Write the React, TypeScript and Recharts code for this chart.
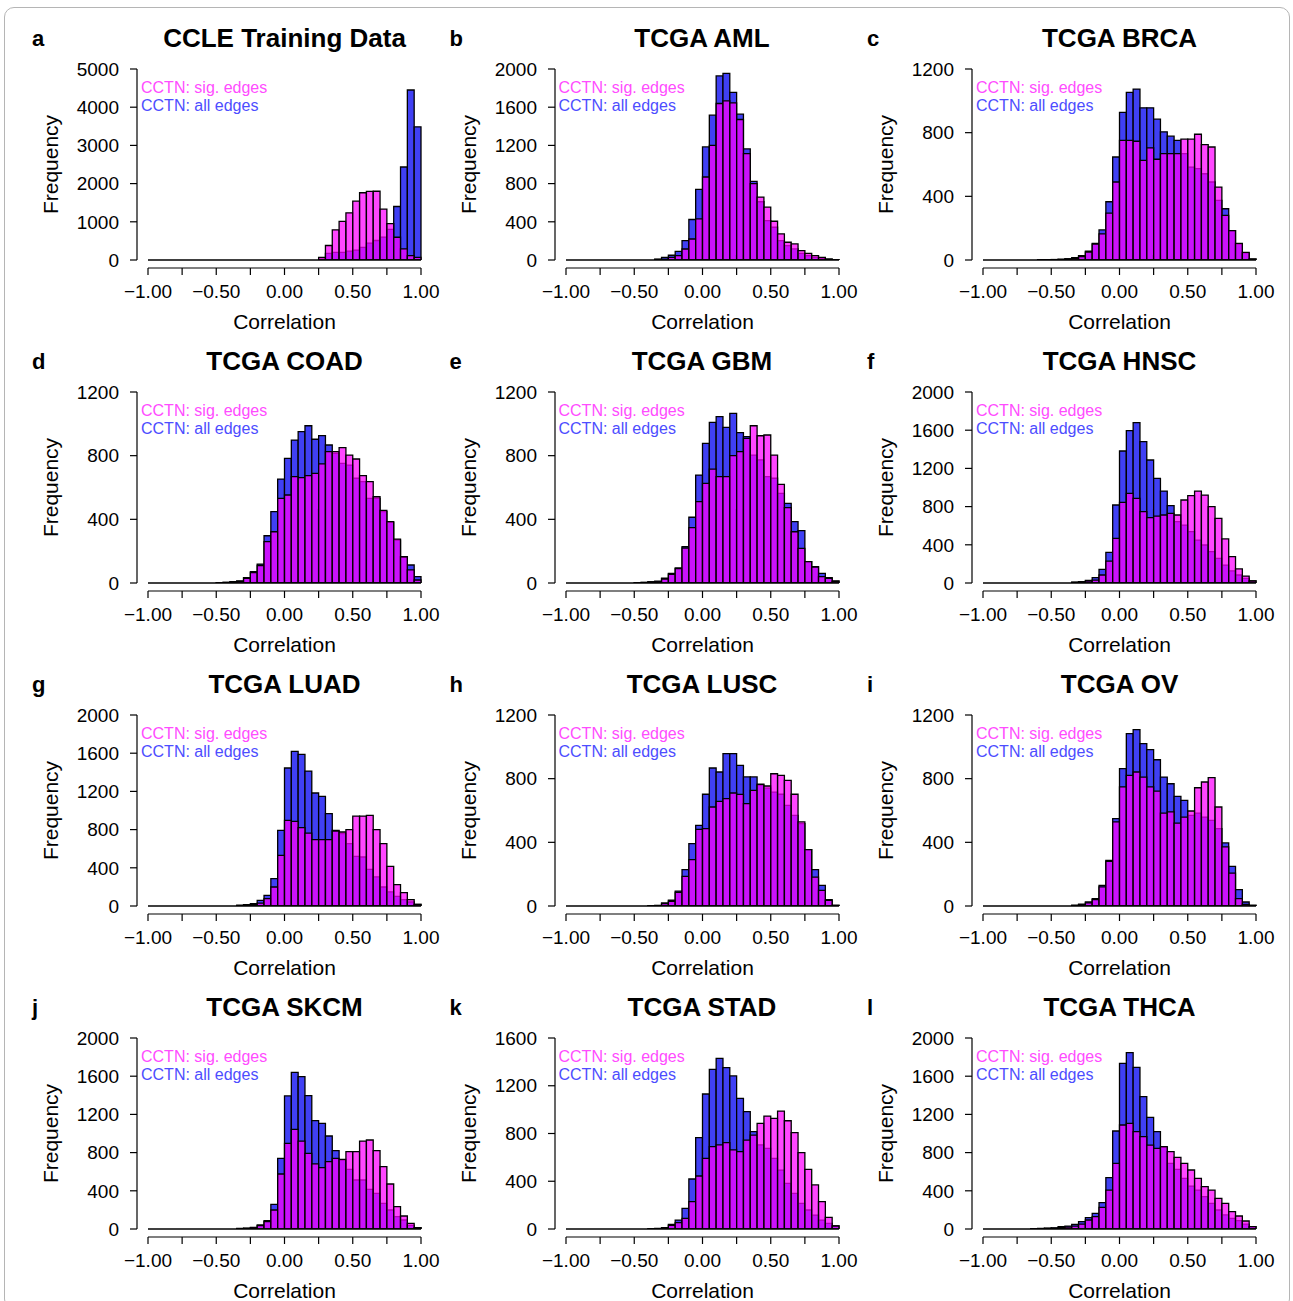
import React from "react";
import { ComposedChart, Bar, Line, XAxis, YAxis, ReferenceLine, Label } from "recharts";

// histogram bins: 0.05 wide, left edges from -1.00 to 0.95
const BIN_STARTS = [
  -1.0, -0.95, -0.9, -0.85, -0.8, -0.75, -0.7, -0.65, -0.6, -0.55,
  -0.5, -0.45, -0.4, -0.35, -0.3, -0.25, -0.2, -0.15, -0.1, -0.05,
  0.0, 0.05, 0.1, 0.15, 0.2, 0.25, 0.3, 0.35, 0.4, 0.45,
  0.5, 0.55, 0.6, 0.65, 0.7, 0.75, 0.8, 0.85, 0.9, 0.95,
];
const BIN_WIDTH = 0.05;

const X_TICKS = [-1, -0.75, -0.5, -0.25, 0, 0.25, 0.5, 0.75, 1];
const Y_TICKS_5000 = [0, 1000, 2000, 3000, 4000, 5000];
const Y_TICKS_2000 = [0, 400, 800, 1200, 1600, 2000];
const Y_TICKS_1600 = [0, 400, 800, 1200, 1600];
const Y_TICKS_1200 = [0, 400, 800, 1200];

// "all edges" (blue) and "sig. edges" (magenta) counts per bin
const CCLE_ALL = [0, 0, 0, 0, 0, 0, 0, 0, 0, 0, 0, 0, 0, 0, 0, 0, 0, 0, 0, 0, 0, 0, 0, 0, 0, 25, 175, 200, 200, 230, 260, 330, 440, 510, 600, 800, 1400, 2435, 4450, 3485];
const CCLE_SIG = [0, 0, 0, 0, 0, 0, 0, 0, 0, 0, 0, 0, 0, 0, 0, 0, 0, 0, 0, 0, 0, 0, 0, 0, 0, 70, 380, 790, 1010, 1235, 1540, 1760, 1795, 1800, 1330, 950, 595, 290, 115, 70];

const AML_ALL = [0, 0, 0, 0, 0, 0, 0, 0, 0, 0, 0, 0, 0, 10, 28, 50, 90, 203, 424, 739, 1184, 1517, 1927, 1955, 1755, 1527, 1163, 823, 610, 413, 343, 203, 150, 116, 70, 45, 28, 17, 8, 3];
const AML_SIG = [0, 0, 0, 0, 0, 0, 0, 0, 0, 0, 0, 0, 0, 3, 8, 28, 45, 115, 220, 430, 869, 1201, 1639, 1667, 1646, 1471, 1114, 800, 659, 553, 406, 273, 186, 168, 98, 70, 45, 28, 10, 3];

const BRCA_ALL = [0, 0, 0, 0, 0, 0, 0, 0, 2, 2, 3, 5, 8, 15, 27, 55, 105, 189, 366, 647, 927, 1053, 1074, 956, 956, 885, 805, 778, 752, 668, 584, 574, 542, 490, 374, 322, 185, 100, 45, 6];
const BRCA_SIG = [0, 0, 0, 0, 0, 0, 0, 0, 1, 1, 2, 3, 5, 10, 22, 50, 100, 164, 294, 490, 752, 752, 746, 626, 704, 633, 668, 668, 668, 759, 759, 790, 725, 710, 458, 280, 185, 105, 48, 6];

const COAD_ALL = [0, 0, 0, 0, 0, 0, 0, 0, 0, 0, 2, 4, 8, 13, 34, 71, 119, 297, 448, 653, 783, 898, 951, 988, 903, 926, 867, 815, 752, 741, 658, 637, 532, 532, 448, 381, 270, 161, 113, 40];
const COAD_SIG = [0, 0, 0, 0, 0, 0, 0, 0, 0, 0, 1, 3, 6, 10, 30, 65, 110, 260, 322, 532, 553, 668, 662, 674, 689, 748, 825, 825, 850, 804, 779, 674, 637, 542, 456, 385, 276, 165, 82, 19];

const GBM_ALL = [0, 0, 0, 0, 0, 0, 0, 0, 0, 0, 2, 4, 8, 12, 30, 60, 95, 228, 413, 678, 877, 1009, 1045, 978, 1066, 945, 920, 804, 773, 668, 658, 563, 500, 385, 329, 134, 103, 61, 34, 13];
const GBM_SIG = [0, 0, 0, 0, 0, 0, 0, 0, 0, 0, 1, 3, 6, 8, 25, 55, 90, 220, 348, 511, 626, 716, 668, 668, 800, 825, 909, 988, 925, 930, 804, 620, 473, 322, 218, 134, 100, 40, 30, 10];

const HNSC_ALL = [0, 0, 0, 0, 0, 0, 0, 0, 0, 0, 0, 0, 0, 10, 15, 28, 56, 143, 321, 817, 1382, 1595, 1679, 1480, 1288, 1096, 963, 810, 642, 607, 537, 450, 398, 328, 258, 188, 126, 84, 49, 21];
const HNSC_SIG = [0, 0, 0, 0, 0, 0, 0, 0, 0, 0, 0, 0, 0, 5, 10, 20, 30, 84, 230, 468, 845, 939, 886, 747, 684, 701, 712, 729, 712, 869, 914, 963, 921, 799, 677, 461, 276, 147, 73, 21];

const LUAD_ALL = [0, 0, 0, 0, 0, 0, 0, 0, 0, 0, 0, 0, 0, 8, 14, 24, 59, 112, 286, 792, 1445, 1619, 1588, 1413, 1183, 1148, 967, 792, 757, 653, 520, 513, 384, 304, 199, 147, 101, 66, 42, 17];
const LUAD_SIG = [0, 0, 0, 0, 0, 0, 0, 0, 0, 0, 0, 0, 0, 4, 8, 15, 31, 77, 199, 530, 897, 886, 820, 764, 694, 694, 694, 785, 775, 799, 942, 942, 949, 799, 653, 415, 223, 140, 66, 17];

const LUSC_ALL = [0, 0, 0, 0, 0, 0, 0, 0, 0, 0, 0, 0, 2, 4, 19, 36, 94, 228, 392, 507, 702, 867, 842, 957, 957, 884, 811, 811, 760, 740, 716, 702, 632, 570, 517, 354, 228, 130, 40, 4];
const LUSC_SIG = [0, 0, 0, 0, 0, 0, 0, 0, 0, 0, 0, 0, 1, 2, 15, 30, 85, 186, 291, 482, 486, 622, 657, 674, 710, 701, 643, 726, 765, 754, 831, 821, 789, 702, 528, 354, 182, 98, 35, 4];

const OV_ALL = [0, 0, 0, 0, 0, 0, 0, 0, 0, 0, 0, 0, 0, 5, 12, 25, 46, 130, 287, 549, 863, 1083, 1108, 1020, 982, 919, 810, 768, 689, 664, 570, 584, 559, 538, 486, 396, 249, 103, 25, 4];
const OV_SIG = [0, 0, 0, 0, 0, 0, 0, 0, 0, 0, 0, 0, 0, 3, 8, 20, 40, 120, 280, 528, 748, 821, 842, 810, 748, 722, 584, 591, 521, 559, 597, 743, 779, 806, 622, 371, 207, 46, 10, 4];

const SKCM_ALL = [0, 0, 0, 0, 0, 0, 0, 0, 0, 0, 0, 0, 0, 5, 10, 17, 42, 87, 258, 740, 1393, 1640, 1595, 1396, 1134, 1106, 974, 820, 722, 625, 513, 513, 415, 373, 269, 199, 129, 94, 38, 14];
const SKCM_SIG = [0, 0, 0, 0, 0, 0, 0, 0, 0, 0, 0, 0, 0, 3, 6, 12, 35, 77, 199, 576, 897, 1044, 921, 792, 681, 642, 705, 740, 729, 810, 810, 921, 932, 820, 653, 471, 234, 136, 59, 14];

const STAD_ALL = [0, 0, 0, 0, 0, 0, 0, 0, 0, 0, 0, 0, 3, 5, 11, 39, 75, 173, 419, 765, 1131, 1337, 1430, 1351, 1282, 1095, 983, 815, 704, 676, 592, 494, 383, 299, 215, 159, 117, 75, 47, 25];
const STAD_SIG = [0, 0, 0, 0, 0, 0, 0, 0, 0, 0, 0, 0, 1, 3, 8, 30, 53, 89, 229, 444, 592, 690, 704, 723, 662, 648, 745, 787, 885, 946, 927, 988, 907, 807, 639, 500, 369, 229, 98, 25];

const THCA_ALL = [0, 0, 0, 0, 0, 0, 0, 3, 5, 8, 12, 24, 31, 49, 77, 119, 164, 276, 537, 1026, 1734, 1846, 1693, 1386, 1169, 1019, 855, 688, 625, 530, 450, 408, 339, 269, 199, 147, 112, 87, 52, 24];
const THCA_SIG = [0, 0, 0, 0, 0, 0, 0, 2, 3, 5, 8, 15, 20, 30, 52, 94, 129, 227, 408, 688, 1089, 1106, 1019, 967, 879, 845, 862, 810, 750, 688, 618, 530, 443, 408, 321, 269, 181, 136, 84, 24];

const PANELS = [
  { letter: "a", title: "CCLE Training Data", all: CCLE_ALL, sig: CCLE_SIG, yTicks: Y_TICKS_5000 },
  { letter: "b", title: "TCGA AML", all: AML_ALL, sig: AML_SIG, yTicks: Y_TICKS_2000 },
  { letter: "c", title: "TCGA BRCA", all: BRCA_ALL, sig: BRCA_SIG, yTicks: Y_TICKS_1200 },
  { letter: "d", title: "TCGA COAD", all: COAD_ALL, sig: COAD_SIG, yTicks: Y_TICKS_1200 },
  { letter: "e", title: "TCGA GBM", all: GBM_ALL, sig: GBM_SIG, yTicks: Y_TICKS_1200 },
  { letter: "f", title: "TCGA HNSC", all: HNSC_ALL, sig: HNSC_SIG, yTicks: Y_TICKS_2000 },
  { letter: "g", title: "TCGA LUAD", all: LUAD_ALL, sig: LUAD_SIG, yTicks: Y_TICKS_2000 },
  { letter: "h", title: "TCGA LUSC", all: LUSC_ALL, sig: LUSC_SIG, yTicks: Y_TICKS_1200 },
  { letter: "i", title: "TCGA OV", all: OV_ALL, sig: OV_SIG, yTicks: Y_TICKS_1200 },
  { letter: "j", title: "TCGA SKCM", all: SKCM_ALL, sig: SKCM_SIG, yTicks: Y_TICKS_2000 },
  { letter: "k", title: "TCGA STAD", all: STAD_ALL, sig: STAD_SIG, yTicks: Y_TICKS_1600 },
  { letter: "l", title: "TCGA THCA", all: THCA_ALL, sig: THCA_SIG, yTicks: Y_TICKS_2000 },
];

const FONT = '"Liberation Sans", Arial, Helvetica, sans-serif';
const BLUE = "#4040f4";
const MAGENTA = "#ff00ff";
const SIG_TEXT = "#ff4cff";
const ALL_TEXT = "#4d4dff";

// layout of one panel
const CELL_W = 417.5;
const CELL_H = 323;
const CHART_W = 450;
const CHART_H = 332;
const PLOT_LEFT = 148;
const PLOT_TOP = 59;
const PLOT_W = 273;
const PLOT_H = 191;
const Y_GAP = 11;
const X_GAP = 8;
const BAR_W = PLOT_W / BIN_STARTS.length - 0.005;

const formatX = (v: number) => {
  const hundredths = Math.round(v * 100);
  if (hundredths % 50 !== 0) return "";
  const txt = Math.abs(v).toFixed(2);
  return v < 0 ? "\u2212" + txt : txt;
};

const axisStyle = { stroke: "#000", strokeWidth: 1.2 };
const tickStyle = { fontSize: 19, fill: "#000", fontFamily: FONT };

const Panel = ({ panel, row, col }: { panel: (typeof PANELS)[number]; row: number; col: number }) => {
  const rows = BIN_STARTS.map((b, i) => ({
    bin: b.toFixed(2),
    mid: b + BIN_WIDTH / 2,
    all: panel.all[i],
    sig: panel.sig[i],
  }));
  const yMax = panel.yTicks[panel.yTicks.length - 1];
  const left = CELL_W * col;
  const top = 10 + CELL_H * row;

  return (
    <div style={{ position: "absolute", left, top, width: CHART_W, height: CHART_H }}>
      <ComposedChart
        width={CHART_W}
        height={CHART_H}
        data={rows}
        barCategoryGap={0}
        barGap={0}
        margin={{ top: PLOT_TOP, right: CHART_W - PLOT_LEFT - PLOT_W, bottom: 0, left: 0 }}
      >
        {/* x1: bin bands for the blue bars, also the gap between bars and axis */}
        <XAxis xAxisId="x1" dataKey="bin" type="category" height={X_GAP} tick={false} axisLine={false} tickLine={false} />
        {/* x2: the visible correlation axis */}
        <XAxis
          xAxisId="x2"
          dataKey="mid"
          type="number"
          domain={[-1, 1]}
          allowDataOverflow
          ticks={X_TICKS}
          interval={0}
          tickFormatter={formatX}
          height={CHART_H - PLOT_TOP - PLOT_H - X_GAP}
          tickSize={7}
          tickMargin={10}
          axisLine={axisStyle}
          tickLine={axisStyle}
          tick={tickStyle}
        >
          <Label
            content={(props: any) => {
              const vb = props.viewBox;
              return (
                <text x={vb.x + vb.width / 2} y={vb.y + 53} textAnchor="middle" dominantBaseline="central" fontSize={21} fontFamily={FONT} fill="#000">
                  Correlation
                </text>
              );
            }}
          />
        </XAxis>
        {/* x3: bin bands for the magenta overlay */}
        <XAxis xAxisId="x3" dataKey="bin" type="category" height={0} hide />

        {/* y1: gap between axis and bars */}
        <YAxis yAxisId="y1" width={Y_GAP} domain={[0, 1]} allowDataOverflow tick={false} axisLine={false} tickLine={false} />
        <YAxis
          yAxisId="y2"
          width={PLOT_LEFT - Y_GAP}
          domain={[0, yMax]}
          allowDataOverflow
          ticks={panel.yTicks}
          interval={0}
          tickSize={7}
          tickMargin={11}
          axisLine={axisStyle}
          tickLine={axisStyle}
          tick={tickStyle}
        >
          <Label
            content={(props: any) => {
              const vb = props.viewBox;
              const cx = vb.x + 50;
              const cy = vb.y + vb.height / 2;
              return (
                <text x={cx} y={cy} transform={`rotate(-90, ${cx}, ${cy})`} textAnchor="middle" dominantBaseline="central" fontSize={21} fontFamily={FONT} fill="#000">
                  Frequency
                </text>
              );
            }}
          />
        </YAxis>
        <YAxis yAxisId="y3" width={0} domain={[0, yMax]} allowDataOverflow hide />

        <Bar xAxisId="x1" yAxisId="y2" dataKey="all" barSize={BAR_W} fill={BLUE} stroke="#000" strokeWidth={1.3} isAnimationActive={false} />
        <Bar xAxisId="x3" yAxisId="y3" dataKey="sig" barSize={BAR_W} fill={MAGENTA} fillOpacity={0.72} stroke="#000" strokeWidth={1.3} isAnimationActive={false} />
        {/* invisible trace so the correlation axis has data */}
        <Line xAxisId="x2" yAxisId="y2" dataKey="all" stroke="none" strokeOpacity={0} dot={false} activeDot={false} legendType="none" isAnimationActive={false} />
        <ReferenceLine xAxisId="x1" yAxisId="y2" y={0} stroke="#000" strokeWidth={1.5} />
      </ComposedChart>

      <div style={{ position: "absolute", left: 32, top: 16, fontSize: 22, fontWeight: "bold", lineHeight: "26px", fontFamily: FONT }}>
        {panel.letter}
      </div>
      <div style={{ position: "absolute", left: PLOT_LEFT - 40, width: PLOT_W + 80, top: 13, textAlign: "center", fontSize: 26, fontWeight: "bold", lineHeight: "30px", fontFamily: FONT }}>
        {panel.title}
      </div>
      <div style={{ position: "absolute", left: 141, top: 69, fontSize: 16, lineHeight: "18px", fontFamily: FONT, whiteSpace: "nowrap" }}>
        <div style={{ color: SIG_TEXT }}>CCTN: sig. edges</div>
        <div style={{ color: ALL_TEXT }}>CCTN: all edges</div>
      </div>
    </div>
  );
};

export default function App() {
  return (
    <div style={{ position: "absolute", left: 0, top: 0, width: 1293, height: 1301, overflow: "hidden", background: "#fff" }}>
      <div style={{ position: "absolute", left: 4, top: 7, width: 1284, height: 1300, border: "1px solid #b5b5b5", borderRadius: 10 }} />
      {PANELS.map((p, i) => (
        <Panel key={p.letter} panel={p} row={Math.floor(i / 3)} col={i % 3} />
      ))}
    </div>
  );
}
